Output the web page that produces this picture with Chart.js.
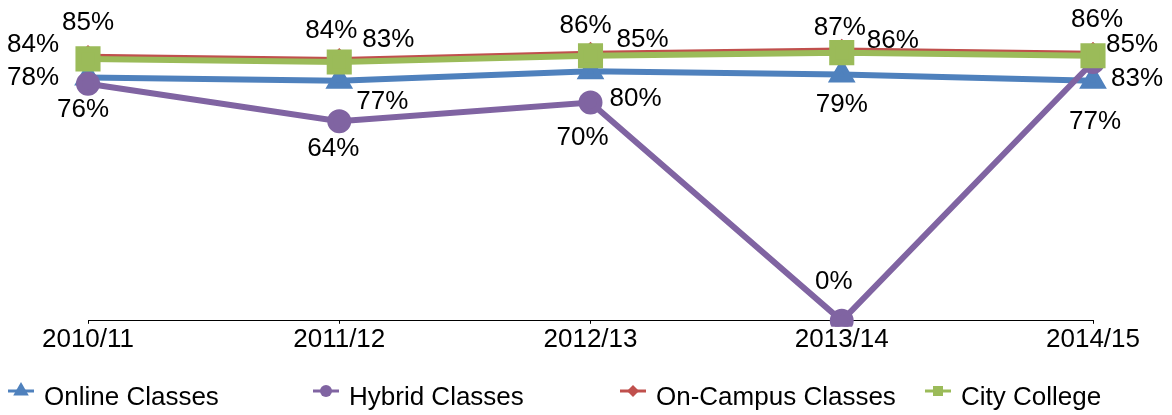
<!DOCTYPE html>
<html>
<head>
<meta charset="utf-8">
<script src="https://cdn.jsdelivr.net/npm/chart.js@4/dist/chart.umd.min.js"></script>
<style>
  html, body { margin: 0; padding: 0; background: #fff; }
  #wrap { width: 1172px; height: 415px; }
</style>
</head>
<body>
<div id="wrap"><canvas id="c" width="1172" height="415"></canvas></div>
<script>
const years = ["2010/11", "2011/12", "2012/13", "2013/14", "2014/15"];
const online = [78, 77, 80, 79, 77];
const hybrid = [76, 64, 70, 0, 83];
const onCampus = [85, 84, 86, 87, 86];
const cityCollege = [84, 83, 85, 86, 85];

const FONT = "'Liberation Sans', Arial, sans-serif";

// where each value label sits relative to its point (px)
const labelOffsets = {
  online: [[-55, -2], [43, 19], [45, 25], [0, 28], [2, 39]],
  hybrid: [[-5, 24], [-6, 26], [-8, 33], [-8, -41], [44, 15]],
  onCampus: [[0, -35], [-8, -30], [-5, -29], [-2, -24], [4, -35]],
  city: [[-55, -16], [49, -24], [52, -18], [51, -14], [39, -13]],
};

function drawShape(ctx, style, x, y, r) {
  ctx.beginPath();
  if (style === "triangle") {
    ctx.moveTo(x, y - r);
    ctx.lineTo(x + r * 0.866, y + r * 0.5);
    ctx.lineTo(x - r * 0.866, y + r * 0.5);
  } else if (style === "circle") {
    ctx.arc(x, y, r, 0, Math.PI * 2);
  } else if (style === "rectRot") {
    ctx.moveTo(x, y - r);
    ctx.lineTo(x + r, y);
    ctx.lineTo(x, y + r);
    ctx.lineTo(x - r, y);
  } else {
    ctx.rect(x - r, y - r, r * 2, r * 2);
  }
  ctx.closePath();
  ctx.fill();
}

const valueLabels = {
  id: "valueLabels",
  afterDatasetsDraw(chart) {
    const ctx = chart.ctx;
    ctx.save();
    ctx.font = "26px " + FONT;
    ctx.fillStyle = "#000";
    ctx.textAlign = "center";
    ctx.textBaseline = "middle";
    chart.data.datasets.forEach((ds, i) => {
      const meta = chart.getDatasetMeta(i);
      meta.data.forEach((pt, j) => {
        const off = ds.labelOffsets[j];
        // +2: canvas "middle" sits a bit above the digits' visual centre
        ctx.fillText(ds.data[j] + "%", pt.x + off[0], pt.y + off[1] + 2);
      });
    });
    ctx.restore();
  }
};

const legendRow = {
  id: "legendRow",
  afterDraw(chart) {
    const ctx = chart.ctx;
    const xs = [8, 313, 620, 925];
    const y = 391;
    ctx.save();
    chart.data.datasets.forEach((ds, i) => {
      const x = xs[i];
      ctx.strokeStyle = ds.borderColor;
      ctx.lineWidth = 3;
      ctx.beginPath();
      ctx.moveTo(x, y);
      ctx.lineTo(x + 26, y);
      ctx.stroke();
      ctx.fillStyle = ds.borderColor;
      drawShape(ctx, ds.pointStyle, x + 13, y, ds.legendMarker);
      ctx.fillStyle = "#000";
      ctx.font = "26px " + FONT;
      ctx.textAlign = "left";
      ctx.textBaseline = "middle";
      ctx.fillText(ds.label, x + 36, y + 7);
    });
    ctx.restore();
  }
};

const clip = { left: 30, right: 30, top: 30, bottom: 6 };

new Chart(document.getElementById("c"), {
  type: "line",
  data: {
    labels: years,
    datasets: [
      {
        label: "Online Classes", data: online,
        borderColor: "#4F81BD", backgroundColor: "#4F81BD",
        borderWidth: 6, pointStyle: "triangle", pointRadius: 10,
        order: 4, clip, labelOffsets: labelOffsets.online, legendMarker: 9,
      },
      {
        label: "Hybrid Classes", data: hybrid,
        borderColor: "#8064A2", backgroundColor: "#8064A2",
        borderWidth: 6, pointStyle: "circle", pointRadius: 9,
        order: 3, clip, labelOffsets: labelOffsets.hybrid, legendMarker: 6,
      },
      {
        label: "On-Campus Classes", data: onCampus,
        borderColor: "#C0504D", backgroundColor: "#C0504D",
        borderWidth: 4, pointStyle: "rectRot", pointRadius: 8,
        order: 2, clip, labelOffsets: labelOffsets.onCampus, legendMarker: 6,
      },
      {
        label: "City College", data: cityCollege,
        borderColor: "#9BBB59", backgroundColor: "#9BBB59",
        borderWidth: 6, pointStyle: "rect", pointRadius: 13.5,
        order: 1, clip, labelOffsets: labelOffsets.city, legendMarker: 5,
      },
    ],
  },
  options: {
    responsive: false,
    animation: false,
    layout: { autoPadding: false, padding: { left: 88, right: 79, top: 9, bottom: 60 } },
    elements: { line: { tension: 0 }, point: { borderWidth: 0 } },
    plugins: { legend: { display: false }, tooltip: { enabled: false } },
    scales: {
      x: {
        offset: false,
        grid: { display: true, drawOnChartArea: false, drawTicks: true, tickLength: 3, color: "#000", lineWidth: 1 },
        border: { display: true, color: "#000", width: 1 },
        ticks: { color: "#000", font: { size: 26, family: FONT }, padding: 0, maxRotation: 0, autoSkip: false },
      },
      y: { display: false, min: 0, max: 100 },
    },
  },
  plugins: [valueLabels, legendRow],
});
</script>
</body>
</html>
